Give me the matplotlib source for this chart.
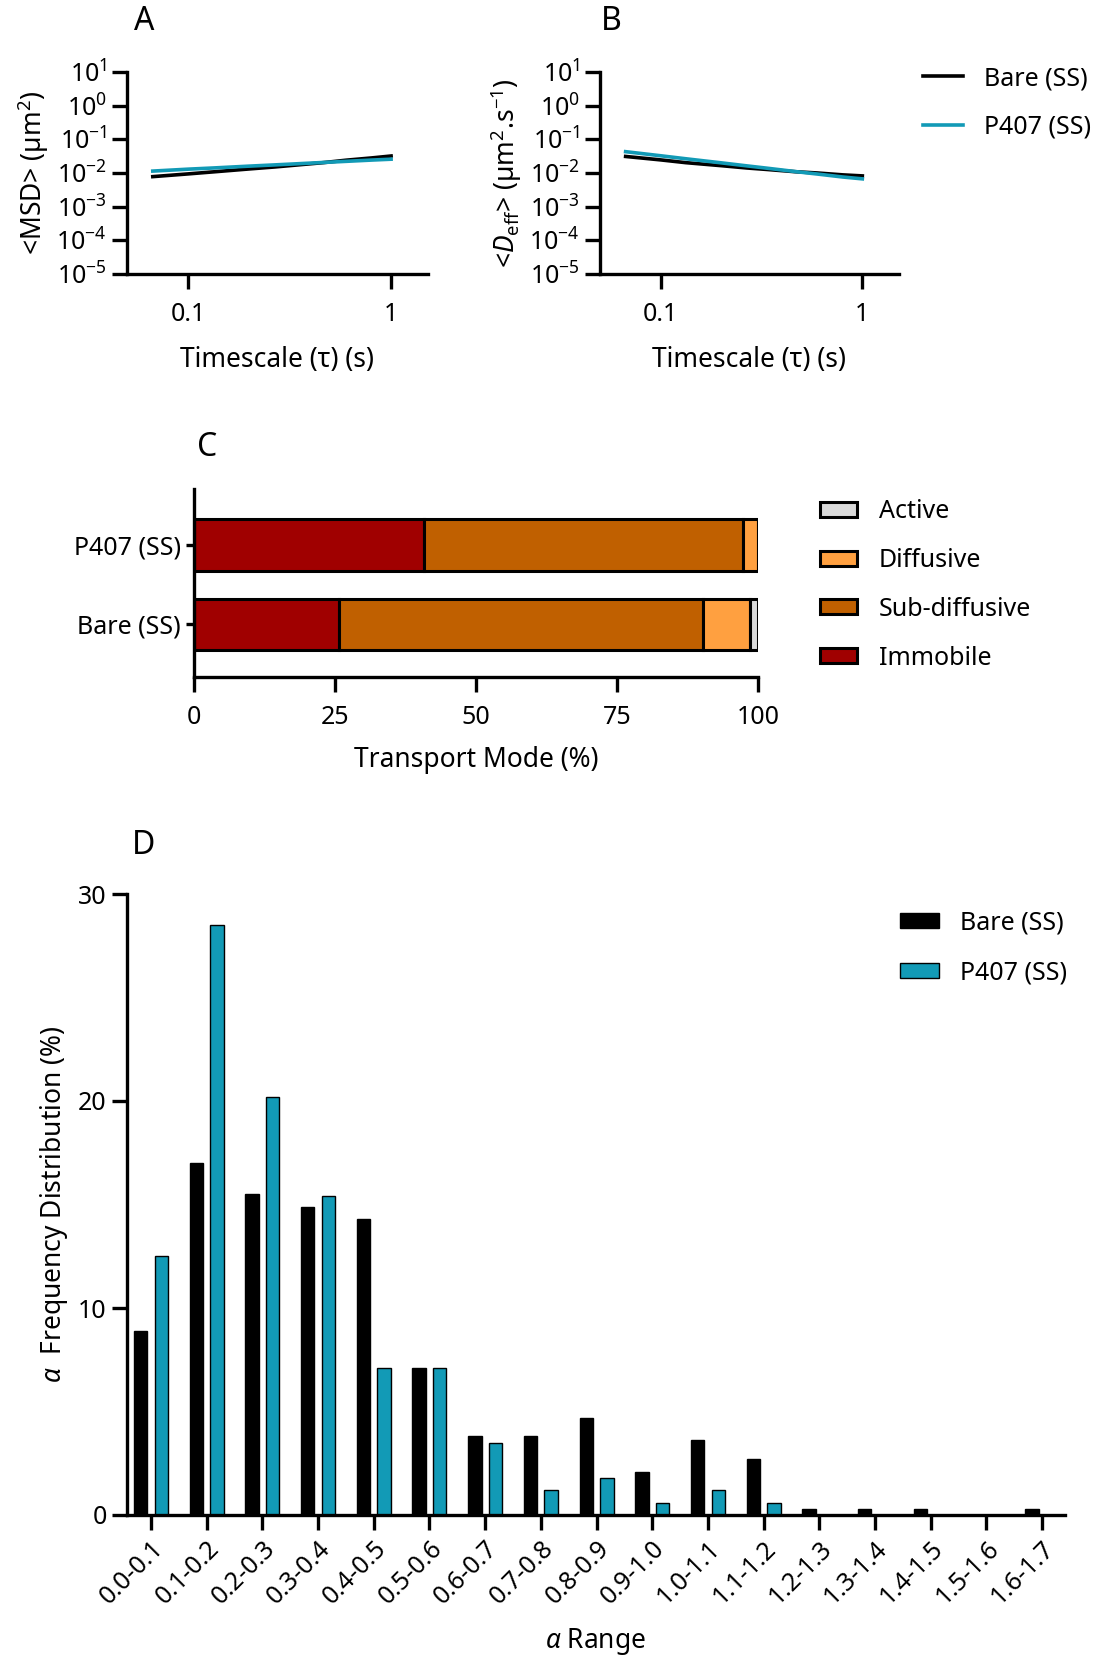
import numpy as np
import matplotlib
matplotlib.use('Agg')
import matplotlib.pyplot as plt

plt.rcParams['font.family'] = ['Noto Sans', 'DejaVu Sans']
plt.rcParams['mathtext.fontset'] = 'custom'
plt.rcParams['mathtext.rm'] = 'Noto Sans'
plt.rcParams['mathtext.it'] = 'Noto Sans:italic'
plt.rcParams['mathtext.bf'] = 'Noto Sans:bold'
plt.rcParams['axes.unicode_minus'] = False

# panels A/B: MSD and Deff against timescale
tau = [0.067, 0.1, 0.133, 0.2, 0.267, 0.333, 0.467, 0.6, 0.8, 1.0]
msd_bare = [0.0078, 0.0094, 0.0108, 0.0132, 0.0151, 0.0170, 0.0204, 0.0240, 0.0280, 0.0320]
msd_p407 = [0.0114, 0.0130, 0.0141, 0.0160, 0.0174, 0.0186, 0.0206, 0.0222, 0.0242, 0.0257]
deff_bare = [0.031, 0.0245, 0.0203, 0.0165, 0.0141, 0.0128, 0.0109, 0.0100, 0.0088, 0.0082]
deff_p407 = [0.043, 0.0325, 0.0265, 0.0200, 0.0163, 0.0140, 0.0110, 0.0093, 0.0076, 0.0067]

# panel C: transport modes
groups = ['Bare (SS)', 'P407 (SS)']
immobile = [25.7, 40.7]
subdiffusive = [64.5, 56.6]
diffusive = [8.3, 2.7]
active = [1.5, 0.0]

# panel D: alpha distribution
alpha_bins = ['0.0-0.1', '0.1-0.2', '0.2-0.3', '0.3-0.4', '0.4-0.5', '0.5-0.6',
              '0.6-0.7', '0.7-0.8', '0.8-0.9', '0.9-1.0', '1.0-1.1', '1.1-1.2',
              '1.2-1.3', '1.3-1.4', '1.4-1.5', '1.5-1.6', '1.6-1.7']
freq_bare = [8.9, 17.0, 15.5, 14.9, 14.3, 7.1, 3.8, 3.8, 4.7, 2.1, 3.6, 2.7,
             0.3, 0.3, 0.3, 0.0, 0.3]
freq_p407 = [12.5, 28.5, 20.2, 15.4, 7.1, 7.1, 3.5, 1.2, 1.8, 0.6, 1.2, 0.6,
             0.0, 0.0, 0.0, 0.0, 0.0]

black = '#000000'
cyan = '#129AB6'
c_immobile = '#A00000'
c_sub = '#C06000'
c_diff = '#FFA040'
c_active = '#D9D9D9'

W, H = 1099, 1659
fig = plt.figure(figsize=(W / 100, H / 100), dpi=100)


def rect(l, t, r, b):
    return [l / W, 1 - b / H, (r - l) / W, (b - t) / H]


def style(ax):
    for s in ['top', 'right']:
        ax.spines[s].set_visible(False)
    for s in ['left', 'bottom']:
        ax.spines[s].set_linewidth(2.4)
    ax.tick_params(width=2.4, length=11, labelsize=18, colors='black')
    ax.tick_params(which='minor', length=0)


# A
axA = fig.add_axes(rect(127, 72, 428, 274))
axA.plot(tau, msd_bare, color=black, lw=2.6)
axA.plot(tau, msd_p407, color=cyan, lw=2.6)
# B
axB = fig.add_axes(rect(600, 72, 899, 274))
axB.plot(tau, deff_bare, color=black, lw=2.6, label='Bare (SS)')
axB.plot(tau, deff_p407, color=cyan, lw=2.6, label='P407 (SS)')

for ax in (axA, axB):
    ax.set_xscale('log')
    ax.set_yscale('log')
    ax.set_xlim(0.05, 1.52)
    ax.set_ylim(1e-5, 1e1)
    ax.set_yticks([1e-5, 1e-4, 1e-3, 1e-2, 1e-1, 1e0, 1e1])
    ax.set_xticks([0.1, 1])
    ax.set_xticklabels(['0.1', '1'])
    style(ax)
    ax.tick_params(axis='x', pad=9)
    ax.set_xlabel('Timescale (\u03c4) (s)', fontsize=19, labelpad=14)

axA.set_ylabel('<MSD> (\u00b5m$^{2}$)', fontsize=19, labelpad=4)
axB.set_ylabel('<$\\mathit{D}_{\\mathrm{eff}}$> (\u00b5m$^{2}$.s$^{-1}$)', fontsize=19, labelpad=4)
axB.legend(loc='upper left', bbox_to_anchor=(1.005, 1.14), frameon=False,
           fontsize=18, handlelength=1.6, handletextpad=0.85, labelspacing=0.95)

# C
axC = fig.add_axes(rect(194, 489, 758, 677))
ypos = np.arange(len(groups))
left = np.zeros(len(groups))
for vals, col, lab in [(immobile, c_immobile, 'Immobile'), (subdiffusive, c_sub, 'Sub-diffusive'),
                       (diffusive, c_diff, 'Diffusive'), (active, c_active, 'Active')]:
    axC.barh(ypos, vals, left=left, height=0.65, color=col, edgecolor='black',
             linewidth=2.2, label=lab)
    left = left + np.array(vals)
axC.set_xlim(0, 100)
axC.set_ylim(-0.66, 1.70)
axC.set_yticks(ypos)
axC.set_yticklabels(groups)
axC.set_xticks([0, 25, 50, 75, 100])
style(axC)
axC.tick_params(axis='y', length=6)
axC.tick_params(axis='x', pad=9)
axC.set_xlabel('Transport Mode (%)', fontsize=19, labelpad=12)
hC, lC = axC.get_legend_handles_labels()
axC.legend(hC[::-1], lC[::-1], loc='upper left', bbox_to_anchor=(1.07, 1.065), frameon=False,
           fontsize=18, handlelength=1.5, handleheight=0.55, handletextpad=0.85, labelspacing=0.95)

# D
axD = fig.add_axes(rect(127, 894, 1065, 1515))
x = np.arange(len(alpha_bins))
axD.bar(x - 0.185, freq_bare, width=0.24, color=black, edgecolor='black', linewidth=1.0,
        label='Bare (SS)')
axD.bar(x + 0.185, freq_p407, width=0.24, color=cyan, edgecolor='black', linewidth=1.0,
        label='P407 (SS)')
axD.set_xlim(-0.43, 16.41)
axD.set_ylim(0, 30)
axD.set_yticks([0, 10, 20, 30])
axD.set_xticks(x)
axD.set_xticklabels(alpha_bins, rotation=45, ha='right', rotation_mode='anchor')
style(axD)
axD.tick_params(axis='x', labelsize=18, pad=4)
axD.set_ylabel('$\\alpha$  Frequency Distribution (%)', fontsize=19, labelpad=6)
axD.set_xlabel('$\\alpha$ Range', fontsize=19, labelpad=12)
axD.legend(loc='upper left', bbox_to_anchor=(0.80, 1.01), frameon=False,
           fontsize=18, handlelength=1.55, handleheight=0.55, handletextpad=0.85, labelspacing=1.0)

for lab, px, py in [('A', 144, 22), ('B', 611, 22), ('C', 207, 447), ('D', 144, 846)]:
    fig.text(px / W, 1 - py / H, lab, fontsize=23, fontweight='bold', ha='center', va='center')

fig.savefig('out.png', dpi=100)
